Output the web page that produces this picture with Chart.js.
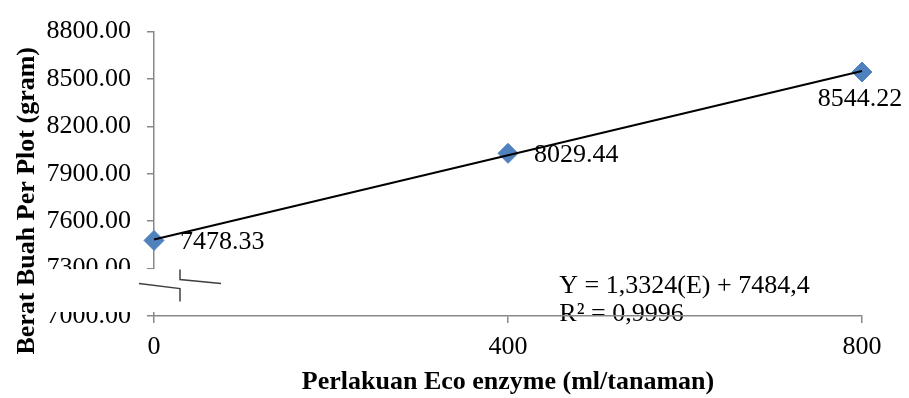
<!DOCTYPE html>
<html>
<head>
<meta charset="utf-8">
<script src="https://cdn.jsdelivr.net/npm/chart.js@4/dist/chart.umd.min.js"></script>
<style>
  html, body { margin: 0; padding: 0; background: #ffffff; }
  #wrap { width: 909px; height: 398px; position: relative; }
</style>
</head>
<body>
<div id="wrap"><canvas id="c" width="909" height="398"></canvas></div>
<script>
// ---- data ----
const doses = [0, 400, 800];
const weights = [7478.33, 8029.44, 8544.22];
const pointLabels = ["7478.33", "8029.44", "8544.22"];
const trendX = [0, 800];
const trendY = [7484.4, 8550.3];
const xTicks = [0, 400, 800];
const yTicks = [7000, 7300, 7600, 7900, 8200, 8500, 8800];
const equationLines = ["Y = 1,3324(E) + 7484,4", "R\u00B2 = 0,9996"];
const equationAnchor = [458, 7190];   // data coords of first line
const xTitle = "Perlakuan Eco enzyme (ml/tanaman)";
const yTitle = "Berat Buah Per Plot (gram)";
const breakFrom = 7000, breakTo = 7300;

const SERIF = '"Liberation Serif", "Times New Roman", serif';
const AXIS_COLOR = '#888888';

const pointData = doses.map((d, i) => ({x: d, y: weights[i]}));
const trendData = trendX.map((d, i) => ({x: d, y: trendY[i]}));

const equationPlugin = {
  id: 'equation',
  beforeDraw(chart) {
    const {ctx, scales: {x, y}} = chart;
    ctx.save();
    ctx.fillStyle = '#000';
    ctx.font = '26px ' + SERIF;
    ctx.textAlign = 'left';
    ctx.textBaseline = 'middle';
    const px = x.getPixelForValue(equationAnchor[0]);
    const py = y.getPixelForValue(equationAnchor[1]);
    equationLines.forEach((t, i) => ctx.fillText(t, px, py + i * 28));
    ctx.restore();
  }
};

const labelsPlugin = {
  id: 'pointLabels',
  afterDatasetsDraw(chart) {
    const {ctx} = chart;
    const meta = chart.getDatasetMeta(1);
    ctx.save();
    ctx.fillStyle = '#000';
    ctx.font = '26px ' + SERIF;
    ctx.textBaseline = 'middle';
    meta.data.forEach((pt, i) => {
      if (i < meta.data.length - 1) {
        ctx.textAlign = 'left';
        ctx.fillText(pointLabels[i], pt.x + 26, pt.y + 2);
      } else {
        ctx.textAlign = 'center';
        ctx.fillText(pointLabels[i], pt.x - 2, pt.y + 27);
      }
    });
    ctx.restore();
  }
};

const breakPlugin = {
  id: 'axisBreak',
  afterDraw(chart) {
    const {ctx, scales: {x, y}} = chart;
    const ax = x.getPixelForValue(0);
    const yTop = y.getPixelForValue(breakTo);
    const yBot = y.getPixelForValue(breakFrom);
    ctx.save();
    ctx.fillStyle = '#ffffff';
    ctx.fillRect(38, yTop + 0.5, ax + 72 - 38, (yBot - 4) - (yTop + 0.5));
    ctx.strokeStyle = '#404040';
    ctx.lineWidth = 1.5;
    const bx = ax + 26;
    ctx.beginPath();
    ctx.moveTo(bx, yTop + 1);
    ctx.lineTo(bx, yTop + 11);
    ctx.lineTo(bx + 41, yTop + 15);
    ctx.moveTo(ax - 15, yTop + 15);
    ctx.lineTo(bx, yTop + 20);
    ctx.lineTo(bx, yTop + 33);
    ctx.stroke();
    ctx.restore();

    // y-axis title
    ctx.save();
    ctx.fillStyle = '#000';
    ctx.font = 'bold 26px ' + SERIF;
    ctx.textAlign = 'center';
    ctx.textBaseline = 'alphabetic';
    ctx.translate(34, (chart.chartArea.top + chart.chartArea.bottom) / 2 + 27);
    ctx.rotate(-Math.PI / 2);
    ctx.fillText(yTitle, 0, 0);
    ctx.restore();
  }
};

new Chart(document.getElementById('c'), {
  type: 'scatter',
  data: {
    datasets: [
      {
        type: 'line',
        data: trendData,
        borderColor: '#000000',
        borderWidth: 2,
        pointRadius: 0,
        fill: false,
        tension: 0,
        clip: false
      },
      {
        data: pointData,
        pointStyle: 'rectRot',
        pointRadius: 10,
        pointHoverRadius: 10,
        backgroundColor: '#4F81BD',
        borderColor: '#4F81BD',
        borderWidth: 1,
        clip: false
      }
    ]
  },
  options: {
    responsive: false,
    animation: false,
    events: [],
    layout: { padding: { top: 26, right: 47, left: 0, bottom: 0 } },
    plugins: { legend: { display: false }, tooltip: { enabled: false } },
    scales: {
      x: {
        type: 'linear',
        min: xTicks[0],
        max: xTicks[xTicks.length - 1],
        afterBuildTicks(scale) { scale.ticks = xTicks.map(v => ({value: v})); },
        afterFit(scale) { scale.height = 82; },
        border: { color: AXIS_COLOR, width: 1.5 },
        grid: { drawOnChartArea: false, drawTicks: true, tickLength: 7, color: AXIS_COLOR, lineWidth: 1.5 },
        ticks: {
          color: '#000',
          font: { family: SERIF, size: 26 },
          padding: 9,
          maxRotation: 0,
          callback: v => String(v)
        },
        title: {
          display: true,
          text: xTitle,
          color: '#000',
          font: { family: SERIF, size: 26, weight: 'bold' },
          padding: { top: 0, bottom: 0 }
        }
      },
      y: {
        type: 'linear',
        min: yTicks[0],
        max: yTicks[yTicks.length - 1],
        afterBuildTicks(scale) { scale.ticks = yTicks.map(v => ({value: v})); },
        afterFit(scale) { scale.width = 154; },
        border: { color: AXIS_COLOR, width: 1.5 },
        grid: { drawOnChartArea: false, drawTicks: true, tickLength: 7, color: AXIS_COLOR, lineWidth: 1.5 },
        ticks: {
          color: '#000',
          font: { family: SERIF, size: 26 },
          padding: 16,
          callback: v => Number(v).toFixed(2)
        }
      }
    }
  },
  plugins: [equationPlugin, labelsPlugin, breakPlugin]
});
</script>
</body>
</html>
